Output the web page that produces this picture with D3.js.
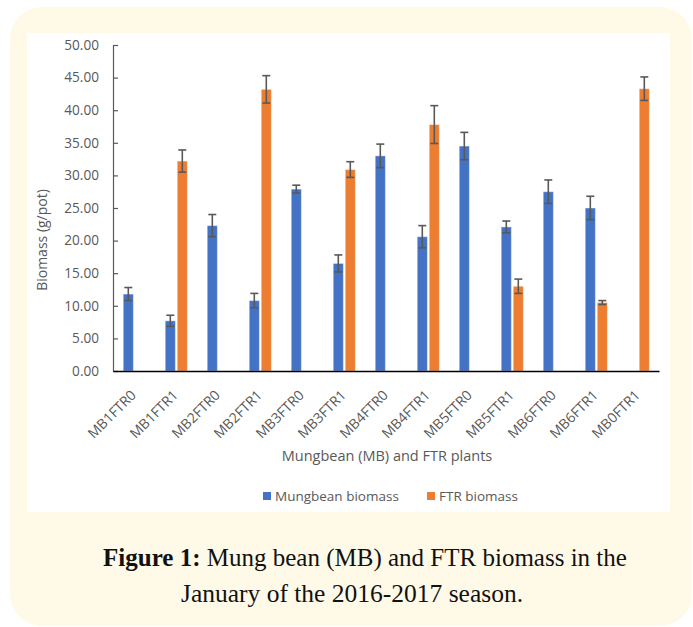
<!DOCTYPE html>
<html><head><meta charset="utf-8">
<script src="https://cdn.jsdelivr.net/npm/d3@7/dist/d3.min.js"></script>
<style>
html,body{margin:0;padding:0;background:#fff;}
svg{display:block;}
</style></head>
<body>
<svg id="c" width="693" height="627"></svg>
<script>
const categories = ["MB1FTR0","MB1FTR1","MB2FTR0","MB2FTR1","MB3FTR0","MB3FTR1","MB4FTR0","MB4FTR1","MB5FTR0","MB5FTR1","MB6FTR0","MB6FTR1","MB0FTR1"];
const mungbean    = [11.8, 7.7, 22.3, 10.8, 27.9, 16.5, 33.0, 20.6, 34.5, 22.1, 27.5, 25.0, null];
const mungbeanErr = [1.0, 0.85, 1.7, 1.1, 0.6, 1.3, 1.8, 1.7, 2.1, 0.9, 1.8, 1.8, null];
const ftr         = [null, 32.2, null, 43.2, null, 30.9, null, 37.8, null, 13.0, null, 10.5, 43.3];
const ftrErr      = [null, 1.7, null, 2.1, null, 1.2, null, 2.9, null, 1.1, null, 0.3, 1.8];
const seriesNames = ["Mungbean biomass","FTR biomass"];
const yTicks = [0,5,10,15,20,25,30,35,40,45,50];
const captionBold = "Figure 1:";
const captionLine1 = " Mung bean (MB) and FTR biomass in the";
const captionLine2 = "January of the 2016-2017 season.";
const xTitle = "Mungbean (MB) and FTR plants";
const yTitle = "Biomass (g/pot)";

const colors = ["#4472C4","#ED7D31"];
const grey = "#595959";
const font = "'Open Sans', sans-serif";

const svg = d3.select("#c");
// backgrounds
svg.append("rect").attr("x",10).attr("y",7).attr("width",682).attr("height",619).attr("rx",32).attr("fill","#FFFAE8");
svg.append("rect").attr("x",27).attr("y",33).attr("width",643).attr("height",479).attr("fill","#fff");

const x = d3.scaleBand().domain(categories).range([113,659]).paddingInner(0).paddingOuter(0);
const sub = d3.scaleBand().domain([0,1]).range([-10.8, 11.4]).paddingInner(0.15);
const y = d3.scaleLinear().domain([0,50]).range([371,45]);

const series = [
  {vals: mungbean, errs: mungbeanErr, i:0},
  {vals: ftr, errs: ftrErr, i:1}
];

const g = svg.append("g");
// y axis
const yAxis = g.append("g").attr("transform","translate(113,0)")
  .call(d3.axisLeft(y).tickValues(yTicks).tickFormat(d3.format(".2f")).tickSize(-5).tickPadding(14));
yAxis.select(".domain").attr("stroke",grey).attr("stroke-width",1.2);
yAxis.selectAll(".tick line").attr("stroke",grey).attr("stroke-width",1.2);
yAxis.selectAll(".tick text").attr("fill",grey).style("font-family",font).style("font-size","13.6px");

// bars
series.forEach(s => {
  const data = categories.map((c,k)=>({c, v:s.vals[k], e:s.errs[k]})).filter(d=>d.v!=null);
  const gs = g.append("g");
  gs.selectAll("rect").data(data).join("rect")
    .attr("x", d => x(d.c) + x.bandwidth()/2 + sub(s.i))
    .attr("width", sub.bandwidth())
    .attr("y", d => y(d.v))
    .attr("height", d => y(0) - y(d.v))
    .attr("fill", colors[s.i])
    .attr("stroke","rgba(255,255,255,0.45)").attr("stroke-width",1);
  const eb = gs.selectAll("g.eb").data(data).join("g").attr("class","eb")
    .attr("stroke","#595959").attr("stroke-width",1.6);
  const cx = d => x(d.c) + x.bandwidth()/2 + sub(s.i) + sub.bandwidth()/2;
  eb.append("line").attr("x1",cx).attr("x2",cx).attr("y1",d=>y(d.v+d.e)).attr("y2",d=>y(d.v-d.e));
  eb.append("line").attr("x1",d=>cx(d)-4).attr("x2",d=>cx(d)+4).attr("y1",d=>y(d.v+d.e)).attr("y2",d=>y(d.v+d.e));
  eb.append("line").attr("x1",d=>cx(d)-4).attr("x2",d=>cx(d)+4).attr("y1",d=>y(d.v-d.e)).attr("y2",d=>y(d.v-d.e));
});

// x axis
const xAxis = g.append("g").attr("transform","translate(0,371)")
  .call(d3.axisBottom(x).tickSize(0).tickPadding(0));
xAxis.select(".domain").attr("stroke","#000").attr("stroke-width",1.6);
xAxis.selectAll(".tick text").attr("fill",grey).style("font-family",font).style("font-size","14px")
  .attr("text-anchor","end").attr("dy",0)
  .attr("transform","translate(3,25) rotate(-45)");

// axis titles
svg.append("text").attr("x",387).attr("y",461).attr("text-anchor","middle")
  .attr("fill",grey).style("font-family",font).style("font-size","14.5px").text(xTitle);
svg.append("text").attr("transform","translate(47,240) rotate(-90)").attr("text-anchor","middle")
  .attr("fill",grey).style("font-family",font).style("font-size","14px").text(yTitle);

// legend
const leg = svg.append("g");
const legX = [263, 427];
seriesNames.forEach((n,i)=>{
  leg.append("rect").attr("x",legX[i]).attr("y",492).attr("width",8).attr("height",8).attr("fill",colors[i]);
  leg.append("text").attr("x",legX[i]+12).attr("y",500.5).attr("fill",grey)
    .style("font-family",font).style("font-size","13.5px").text(n);
});

// caption
const cap = svg.append("text").attr("x",365).attr("y",566).attr("text-anchor","middle")
  .style("font-family","'Liberation Serif', serif").style("font-size","25px").attr("fill","#111");
cap.append("tspan").attr("font-weight","bold").text(captionBold);
cap.append("tspan").text(captionLine1);
svg.append("text").attr("x",352).attr("y",602).attr("text-anchor","middle")
  .style("font-family","'Liberation Serif', serif").style("font-size","25.5px").attr("fill","#111").text(captionLine2);
</script>
</body></html>
